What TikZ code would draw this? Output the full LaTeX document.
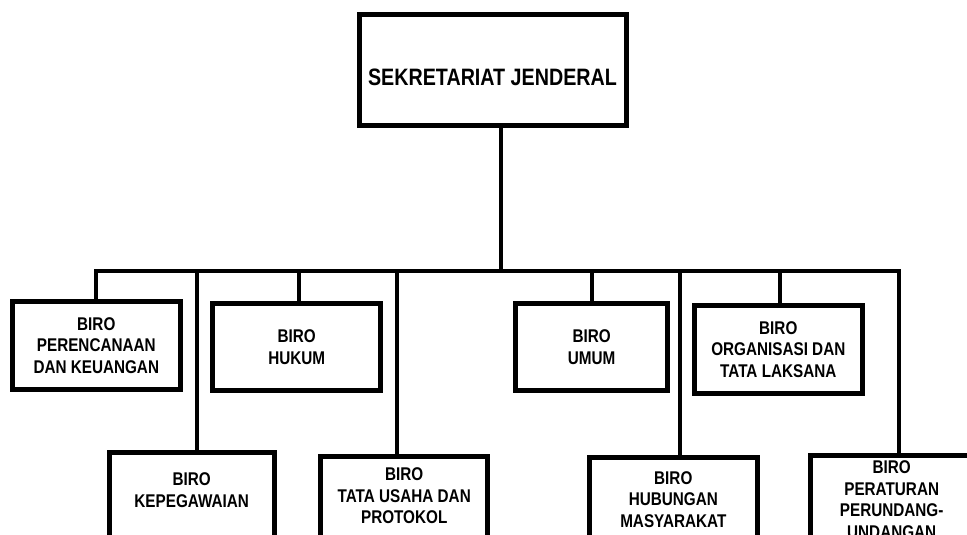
\documentclass[tikz,border=0pt]{standalone}
\usepackage{fontspec}
\setmainfont{Liberation Sans}[FakeStretch=0.83]
\usetikzlibrary{calc}
\begin{document}
\begin{tikzpicture}[x=0.75pt,y=-0.75pt,
  box/.style={draw, line width=3.75pt, align=center, inner sep=0pt,
    font=\fontsize{13.8}{16.3}\selectfont\bfseries},
  cutbox/.style={box, anchor=north, text depth=120pt},
  conn/.style={line width=3pt}]
\useasboundingbox (0,0) rectangle (967,535);
\clip (0,0) rectangle (967,535);

% top box
\node[box, minimum width=200.25pt, minimum height=82.5pt, text height=22.5pt, text depth=0pt,
  font=\fontsize{17.8}{20}\selectfont\bfseries] (sekjen) at (492.5,70) {SEKRETARIAT JENDERAL};

% upper row
\node[box, minimum width=125.8pt, minimum height=65.6pt] (pere) at (96.3,345.5) {BIRO\\PERENCANAAN\\DAN KEUANGAN};
\node[box, minimum width=126.2pt, minimum height=65.7pt] (hukum) at (296.7,347) {BIRO\\HUKUM};
\node[box, minimum width=113.8pt, minimum height=65.7pt] (umum) at (591.7,347) {BIRO\\UMUM};
\node[box, minimum width=126.2pt, minimum height=65.6pt] (org) at (778.3,349.5) {BIRO\\ORGANISASI DAN\\TATA LAKSANA};

% lower row (cut by the page edge)
\node[cutbox, minimum width=123.75pt, inner ysep=15.6pt] (kep) at (191.7,449.8) {BIRO\\KEPEGAWAIAN};
\node[cutbox, minimum width=125pt, inner ysep=8.2pt] (tata) at (404.2,454.2) {BIRO\\TATA USAHA DAN\\PROTOKOL};
\node[cutbox, minimum width=126.2pt, inner ysep=10.4pt] (hub) at (673.3,454.8) {BIRO\\HUBUNGAN\\MASYARAKAT};
\node[cutbox, minimum width=122.25pt, inner ysep=4.2pt] (perat) at (891.7,452.5) {BIRO\\PERATURAN\\PERUNDANG-\\UNDANGAN};

% bus coordinates
\coordinate (bt) at (500.5,270.5);
\coordinate (d1) at (96,270.5);
\coordinate (d2) at (197,270.5);
\coordinate (d3) at (299,270.5);
\coordinate (d4) at (397,270.5);
\coordinate (d5) at (592,270.5);
\coordinate (d6) at (679.7,270.5);
\coordinate (d7) at (779.5,270.5);
\coordinate (d8) at (899,270.5);

\draw[conn] (bt |- sekjen.south) -- (bt);
\draw[conn] (d1 |- pere.north) -- (d1) -- (d8) -- (d8 |- perat.north);
\draw[conn] (d2) -- (d2 |- kep.north);
\draw[conn] (d3) -- (d3 |- hukum.north);
\draw[conn] (d4) -- (d4 |- tata.north);
\draw[conn] (d5) -- (d5 |- umum.north);
\draw[conn] (d6) -- (d6 |- hub.north);
\draw[conn] (d7) -- (d7 |- org.north);
\end{tikzpicture}
\end{document}
